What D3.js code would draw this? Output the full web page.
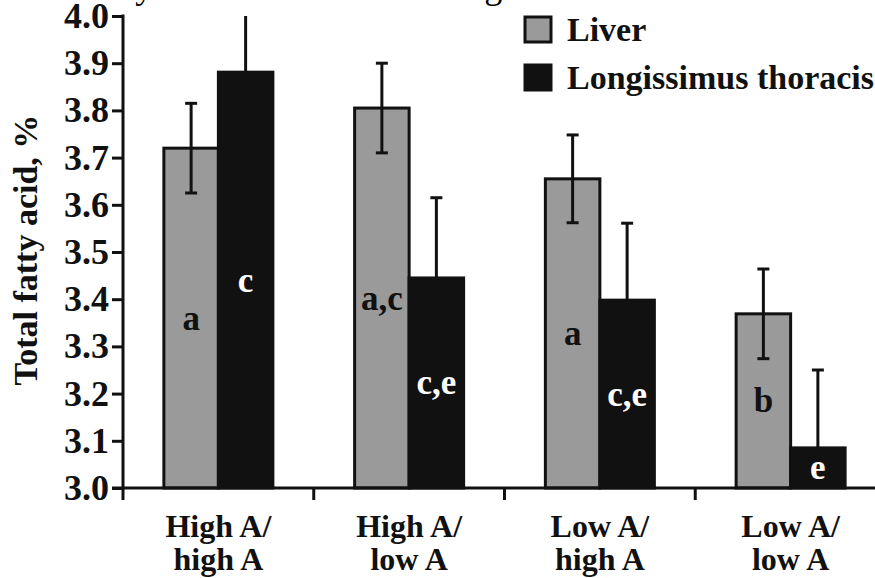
<!DOCTYPE html>
<html lang="en">
<head>
  <meta charset="UTF-8">
  <title>Total fatty acid</title>
  <style>
    body {
      margin: 0;
      background: #fff;
      overflow: hidden;
    }
    svg {
      display: block;
    }
    svg text {
      font-family: "Liberation Serif", "Times New Roman", serif;
      font-weight: bold;
    }
  </style>
</head>
<body>
  <svg id="chart"></svg>

  <script src="https://d3js.org/d3.v7.min.js"></script>
  <script>
    const categories = ["HAHA", "HALA", "LAHA", "LALA"];
    const catLine1 = ["High A/", "High A/", "Low A/", "Low A/"];
    const catLine2 = ["high A", "low A", "high A", "low A"];
    const series = ["Liver", "Longissimus thoracis"];

    const liverMean = [3.72, 3.805, 3.655, 3.369];
    const liverErr = [0.095, 0.095, 0.093, 0.095];
    const ltMean = [3.881, 3.445, 3.398, 3.085];
    const ltErr = [0.16, 0.17, 0.163, 0.165];

    const liverLetters = ["a", "a,c", "a", "b"];
    const ltLetters = ["c", "c,e", "c,e", "e"];

    const yTicks = [3.0, 3.1, 3.2, 3.3, 3.4, 3.5, 3.6, 3.7, 3.8, 3.9, 4.0];
    const colors = ["#9a9a9a", "#111111"];

    const width = 875, height = 578;
    const svg = d3.select("#chart").attr("width", width).attr("height", height);

    const y = d3.scaleLinear().domain([3.0, 4.0]).range([488, 16]);
    const x = d3.scaleBand().domain(categories).range([123, 886]);
    const x1 = d3.scaleBand().domain(series).range([-54.5, 54.5]);

    // caption, almost entirely cut off by the top edge
    svg.append("text")
      .attr("x", 437).attr("y", -2)
      .attr("text-anchor", "middle")
      .attr("font-size", 36)
      .attr("font-weight", "normal")
      .style("font-weight", "normal")
      .text("Total fatty acid content of the longissimus thoracis and liver");

    const rows = [];
    categories.forEach((c, i) => {
      rows.push({ cat: c, s: series[0], v: liverMean[i], e: liverErr[i], t: liverLetters[i], k: 0 });
      rows.push({ cat: c, s: series[1], v: ltMean[i], e: ltErr[i], t: ltLetters[i], k: 1 });
    });
    const cx = d => x(d.cat) + x.bandwidth() / 2 + x1(d.s);

    // bars
    svg.append("g").selectAll("rect")
      .data(rows)
      .enter()
      .append("rect")
      .attr("x", cx)
      .attr("y", d => y(d.v))
      .attr("width", x1.bandwidth())
      .attr("height", d => y(3.0) - y(d.v))
      .attr("fill", d => colors[d.k])
      .attr("stroke", "#111")
      .attr("stroke-width", 3);

    // error bars, clipped to the axis range
    const eb = svg.append("g").attr("stroke", "#111").attr("stroke-width", 3);
    rows.forEach(d => {
      const mx = cx(d) + x1.bandwidth() / 2;
      const top = Math.min(d.v + d.e, 4.0);
      const bot = Math.max(d.v - d.e, 3.0);
      eb.append("line")
        .attr("x1", mx).attr("x2", mx)
        .attr("y1", y(bot)).attr("y2", y(top));
      const caps = [d.v - d.e, d.v + d.e].filter(c => c > 3.0 && c < 4.0);
      caps.forEach(c => {
        eb.append("line")
          .attr("x1", mx - 6).attr("x2", mx + 6)
          .attr("y1", y(c)).attr("y2", y(c));
      });
    });

    // significance letters
    svg.append("g").selectAll("text")
      .data(rows)
      .enter()
      .append("text")
      .attr("x", d => cx(d) + x1.bandwidth() / 2)
      .attr("y", d => y((3.0 + d.v) / 2))
      .attr("text-anchor", "middle")
      .attr("dominant-baseline", "central")
      .attr("font-size", 35)
      .attr("fill", d => d.k === 0 ? "#111" : "#fff")
      .text(d => d.t);

    // y axis
    const yAxis = svg.append("g")
      .attr("transform", "translate(123,0)")
      .attr("font-family", "Liberation Serif")
      .call(d3.axisLeft(y).tickValues(yTicks).tickFormat(d3.format(".1f")).tickSize(11).tickPadding(3));
    yAxis.select(".domain").remove();
    yAxis.selectAll(".tick line").attr("stroke", "#111").attr("stroke-width", 3);
    yAxis.selectAll(".tick text")
      .attr("font-size", 36)
      .attr("fill", "#111");
    svg.append("line")
      .attr("x1", 123).attr("x2", 123)
      .attr("y1", y(4.0) - 1.5).attr("y2", 500)
      .attr("stroke", "#111").attr("stroke-width", 3);

    // x axis
    svg.append("line")
      .attr("x1", 112).attr("x2", width)
      .attr("y1", y(3.0)).attr("y2", y(3.0))
      .attr("stroke", "#111").attr("stroke-width", 3);
    svg.append("g").selectAll("line")
      .data(categories.slice(1))
      .enter()
      .append("line")
      .attr("x1", d => x(d)).attr("x2", d => x(d))
      .attr("y1", y(3.0)).attr("y2", y(3.0) + 12)
      .attr("stroke", "#111").attr("stroke-width", 3);

    const xl = svg.append("g").selectAll("text")
      .data(categories)
      .enter()
      .append("text")
      .attr("text-anchor", "middle")
      .attr("font-size", 32)
      .attr("fill", "#111");
    xl.append("tspan")
      .attr("x", d => x(d) + x.bandwidth() / 2)
      .attr("y", 537)
      .text((d, i) => catLine1[i]);
    xl.append("tspan")
      .attr("x", d => x(d) + x.bandwidth() / 2)
      .attr("y", 570)
      .text((d, i) => catLine2[i]);

    // y title
    svg.append("text")
      .attr("transform", "translate(37,250) rotate(-90)")
      .attr("text-anchor", "middle")
      .attr("font-size", 34)
      .attr("fill", "#111")
      .text("Total fatty acid, %");

    // legend
    const lg = svg.append("g");
    series.forEach((s, i) => {
      lg.append("rect")
        .attr("x", 525).attr("y", 17 + i * 48)
        .attr("width", 26).attr("height", 25)
        .attr("fill", colors[i])
        .attr("stroke", "#111").attr("stroke-width", 3);
      lg.append("text")
        .attr("x", 567).attr("y", 41 + i * 48)
        .attr("font-size", 34)
        .attr("fill", "#111")
        .text(s);
    });
  </script>
</body>
</html>
